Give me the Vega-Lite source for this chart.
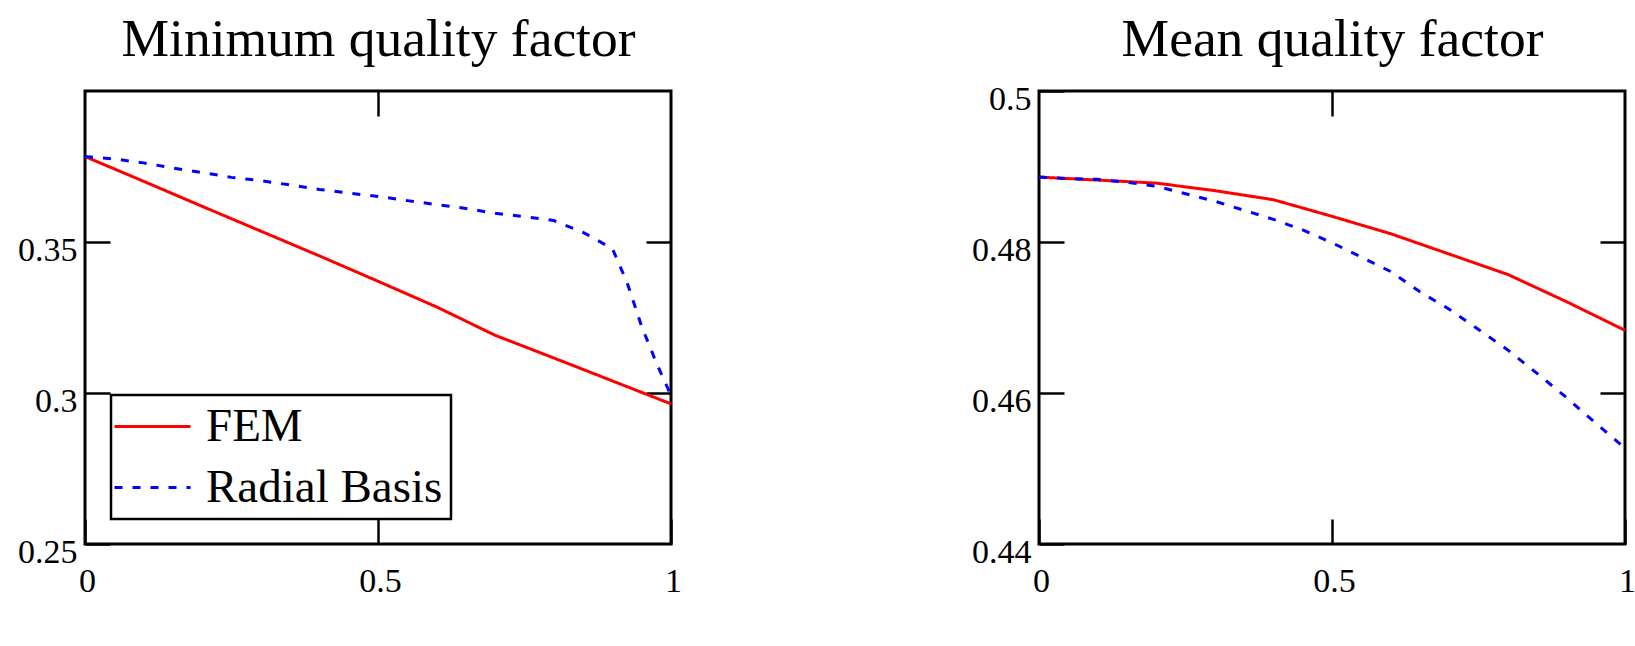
{
  "$schema": "https://vega.github.io/schema/vega-lite/v6.json",
  "background": "white",
  "padding": {"left": 16, "top": 10, "right": 5, "bottom": 5},
  "config": {
    "font": "Liberation Serif",
    "view": {"stroke": "black", "strokeWidth": 3},
    "axis": {
      "labelFont": "Liberation Serif",
      "labelFontSize": 34,
      "labelColor": "black",
      "grid": false,
      "domain": false,
      "ticks": true,
      "tickColor": "black",
      "tickWidth": 2.5,
      "tickSize": -25,
      "labelFlush": false,
      "labelOverlap": false,
      "format": "~g",
      "titleFont": "Liberation Serif",
      "titleFontSize": 53.5,
      "titleFontWeight": "normal",
      "titleColor": "black"
    },
    "axisX": {"labelPadding": 45, "labelOffset": 2},
    "axisY": {"labelPadding": 33, "labelOffset": 8},
    "legend": {
      "orient": "none",
      "legendX": 26,
      "legendY": 304,
      "strokeColor": "black",
      "strokeWidth": 2.5,
      "fillColor": "white",
      "padding": 8,
      "labelFont": "Liberation Serif",
      "labelFontSize": 47,
      "labelColor": "black",
      "labelLimit": 400,
      "symbolType": "M-4,0H4",
      "symbolSize": 361,
      "symbolStrokeWidth": 3,
      "symbolOffset": 10,
      "labelOffset": 30,
      "rowPadding": 13
    }
  },
  "datasets": {
    "minq": [
      {"series": "FEM", "x": 0, "y": 0.3783},
      {"series": "FEM", "x": 0.1, "y": 0.3701},
      {"series": "FEM", "x": 0.2, "y": 0.3618},
      {"series": "FEM", "x": 0.3, "y": 0.3536},
      {"series": "FEM", "x": 0.4, "y": 0.3454},
      {"series": "FEM", "x": 0.5, "y": 0.337},
      {"series": "FEM", "x": 0.6, "y": 0.3285},
      {"series": "FEM", "x": 0.7, "y": 0.3191},
      {"series": "FEM", "x": 0.8, "y": 0.3116},
      {"series": "FEM", "x": 0.9, "y": 0.304},
      {"series": "FEM", "x": 1, "y": 0.2964},
      {"series": "Radial Basis", "x": 0, "y": 0.3783},
      {"series": "Radial Basis", "x": 0.05, "y": 0.3775},
      {"series": "Radial Basis", "x": 0.1, "y": 0.3762},
      {"series": "Radial Basis", "x": 0.15, "y": 0.3745},
      {"series": "Radial Basis", "x": 0.2, "y": 0.373},
      {"series": "Radial Basis", "x": 0.25, "y": 0.3714},
      {"series": "Radial Basis", "x": 0.3, "y": 0.3703},
      {"series": "Radial Basis", "x": 0.35, "y": 0.3689},
      {"series": "Radial Basis", "x": 0.4, "y": 0.3674},
      {"series": "Radial Basis", "x": 0.45, "y": 0.3662},
      {"series": "Radial Basis", "x": 0.5, "y": 0.3651},
      {"series": "Radial Basis", "x": 0.55, "y": 0.3637},
      {"series": "Radial Basis", "x": 0.6, "y": 0.3624},
      {"series": "Radial Basis", "x": 0.65, "y": 0.3611},
      {"series": "Radial Basis", "x": 0.7, "y": 0.3595},
      {"series": "Radial Basis", "x": 0.75, "y": 0.3584},
      {"series": "Radial Basis", "x": 0.8, "y": 0.3571},
      {"series": "Radial Basis", "x": 0.85, "y": 0.3532},
      {"series": "Radial Basis", "x": 0.9, "y": 0.3478},
      {"series": "Radial Basis", "x": 0.925, "y": 0.3366},
      {"series": "Radial Basis", "x": 0.95, "y": 0.322},
      {"series": "Radial Basis", "x": 0.975, "y": 0.31},
      {"series": "Radial Basis", "x": 1, "y": 0.2992}
    ],
    "meanq": [
      {"series": "FEM", "x": 0, "y": 0.4886},
      {"series": "FEM", "x": 0.1, "y": 0.4882},
      {"series": "FEM", "x": 0.2, "y": 0.4878},
      {"series": "FEM", "x": 0.3, "y": 0.4868},
      {"series": "FEM", "x": 0.4, "y": 0.4856},
      {"series": "FEM", "x": 0.5, "y": 0.4834},
      {"series": "FEM", "x": 0.6, "y": 0.4811},
      {"series": "FEM", "x": 0.7, "y": 0.4784},
      {"series": "FEM", "x": 0.8, "y": 0.4757},
      {"series": "FEM", "x": 0.9, "y": 0.4721},
      {"series": "FEM", "x": 1, "y": 0.4683},
      {"series": "Radial Basis", "x": 0, "y": 0.4886},
      {"series": "Radial Basis", "x": 0.05, "y": 0.4884},
      {"series": "Radial Basis", "x": 0.1, "y": 0.4883},
      {"series": "Radial Basis", "x": 0.15, "y": 0.4879},
      {"series": "Radial Basis", "x": 0.2, "y": 0.4874},
      {"series": "Radial Basis", "x": 0.25, "y": 0.4864},
      {"series": "Radial Basis", "x": 0.3, "y": 0.4854},
      {"series": "Radial Basis", "x": 0.35, "y": 0.4842},
      {"series": "Radial Basis", "x": 0.4, "y": 0.483},
      {"series": "Radial Basis", "x": 0.45, "y": 0.4816},
      {"series": "Radial Basis", "x": 0.5, "y": 0.4799},
      {"series": "Radial Basis", "x": 0.55, "y": 0.478},
      {"series": "Radial Basis", "x": 0.6, "y": 0.4761},
      {"series": "Radial Basis", "x": 0.65, "y": 0.4734},
      {"series": "Radial Basis", "x": 0.7, "y": 0.4711},
      {"series": "Radial Basis", "x": 0.75, "y": 0.4684},
      {"series": "Radial Basis", "x": 0.8, "y": 0.4657},
      {"series": "Radial Basis", "x": 0.85, "y": 0.4626},
      {"series": "Radial Basis", "x": 0.9, "y": 0.4594},
      {"series": "Radial Basis", "x": 0.95, "y": 0.456},
      {"series": "Radial Basis", "x": 1, "y": 0.4527}
    ]
  },
  "resolve": {"legend": {"color": "independent", "strokeDash": "independent"}},
  "spacing": 287,
  "hconcat": [
    {
      "width": 586,
      "height": 453,
      "data": {"name": "minq"},
      "layer": [
        {
          "mark": {"type": "line", "strokeWidth": 3},
          "encoding": {
            "x": {"field": "x", "type": "quantitative", "scale": {"domain": [0, 1], "nice": false, "zero": false},
                  "axis": {"orient": "bottom", "values": [0, 0.5, 1], "title": null}},
            "y": {"field": "y", "type": "quantitative", "scale": {"domain": [0.25, 0.4], "nice": false, "zero": false},
                  "axis": {"orient": "left", "values": [0.25, 0.3, 0.35], "title": null}},
            "color": {"field": "series", "type": "nominal",
                      "scale": {"domain": ["FEM", "Radial Basis"], "range": ["#ff0000", "#0000ff"]},
                      "legend": {"title": null}},
            "strokeDash": {"field": "series", "type": "nominal",
                           "scale": {"domain": ["FEM", "Radial Basis"], "range": [[1, 0], [8, 10]]},
                           "legend": {"title": null}}
          }
        },
        {
          "mark": {"type": "line", "opacity": 0},
          "encoding": {
            "x": {"field": "x", "type": "quantitative",
                  "axis": {"orient": "top", "values": [0.5], "labels": false,
                           "title": "Minimum quality factor", "titleY": -36, "titleBaseline": "alphabetic", "titleAlign": "center"}},
            "y": {"field": "y", "type": "quantitative",
                  "axis": {"orient": "right", "values": [0.3, 0.35], "labels": false, "title": null}},
            "detail": {"field": "series"}
          }
        }
      ]
    },
    {
      "width": 586,
      "height": 453,
      "data": {"name": "meanq"},
      "layer": [
        {
          "mark": {"type": "line", "strokeWidth": 3},
          "encoding": {
            "x": {"field": "x", "type": "quantitative", "scale": {"domain": [0, 1], "nice": false, "zero": false},
                  "axis": {"orient": "bottom", "values": [0, 0.5, 1], "title": null}},
            "y": {"field": "y", "type": "quantitative", "scale": {"domain": [0.44, 0.5], "nice": false, "zero": false},
                  "axis": {"orient": "left", "values": [0.44, 0.46, 0.48, 0.5], "title": null}},
            "color": {"field": "series", "type": "nominal", "legend": null,
                      "scale": {"domain": ["FEM", "Radial Basis"], "range": ["#ff0000", "#0000ff"]}},
            "strokeDash": {"field": "series", "type": "nominal", "legend": null,
                           "scale": {"domain": ["FEM", "Radial Basis"], "range": [[1, 0], [8, 10]]}}
          }
        },
        {
          "mark": {"type": "line", "opacity": 0},
          "encoding": {
            "x": {"field": "x", "type": "quantitative",
                  "axis": {"orient": "top", "values": [0.5], "labels": false,
                           "title": "Mean quality factor", "titleY": -36, "titleBaseline": "alphabetic", "titleAlign": "center"}},
            "y": {"field": "y", "type": "quantitative",
                  "axis": {"orient": "right", "values": [0.46, 0.48], "labels": false, "title": null}},
            "detail": {"field": "series"}
          }
        }
      ]
    }
  ]
}
